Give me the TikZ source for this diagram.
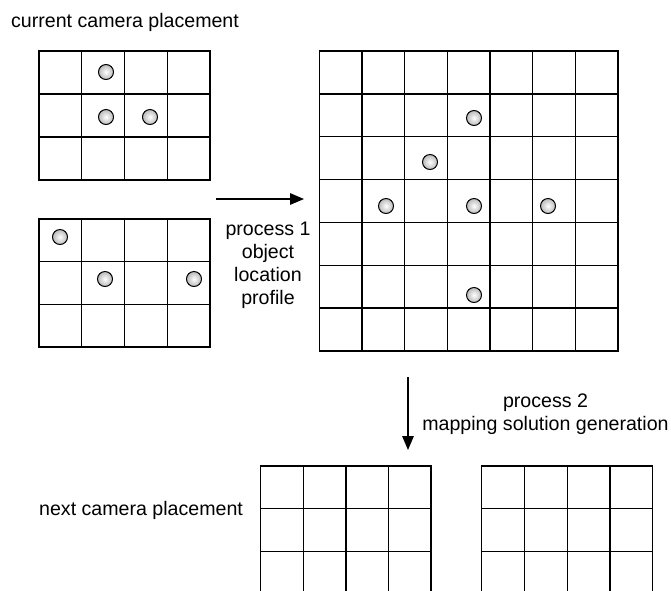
\documentclass[tikz,border=0pt]{standalone}
\usepackage{fontspec}
\setmainfont{Liberation Sans}
\usetikzlibrary{arrows.meta}
\begin{document}
\begin{tikzpicture}[x=1pt,y=-1pt,
  gridline/.style={line width=1.4pt, line cap=rect},
  obj/.style={circle, draw, line width=1pt, minimum size=15pt, inner sep=0pt, inner color=white, outer color=gray!55},
  lbl/.style={font=\fontsize{19.6}{23}\selectfont, align=center, inner sep=0pt},
  flow/.style={line width=1.4pt, -{Triangle[length=14pt,width=11.5pt]}}]
\useasboundingbox (0,0) rectangle (671,590);
% top-left grid
\draw[gridline] (39,51) rectangle (210,180);
\foreach \x in {81.75,124.5,167.25} \draw[gridline] (\x,51) -- (\x,180);
\foreach \y in {94,137} \draw[gridline] (39,\y) -- (210,\y);
% bottom-left grid
\draw[gridline] (39,219) rectangle (210,347);
\foreach \x in {81.75,124.5,167.25} \draw[gridline] (\x,219) -- (\x,347);
\foreach \y in {261.7,304.3} \draw[gridline] (39,\y) -- (210,\y);
% big grid
\draw[gridline] (319.3,51) rectangle (618,351);
\foreach \i in {1,...,6} {
  \draw[gridline] ({319.3+42.67*\i},51) -- ({319.3+42.67*\i},351);
  \draw[gridline] (319.3,{51+42.86*\i}) -- (618,{51+42.86*\i});
}
% bottom grids (cut at bottom)
\draw[gridline] (260.7,590) -- (260.7,466) -- (431,466) -- (431,590);
\foreach \x in {303.3,346,388.7} \draw[gridline] (\x,466) -- (\x,590);
\foreach \y in {508.7,551.3} \draw[gridline] (260.7,\y) -- (431,\y);
\draw[gridline] (481.7,590) -- (481.7,466) -- (652.3,466) -- (652.3,590);
\foreach \x in {524.3,567.3,610} \draw[gridline] (\x,466) -- (\x,590);
\foreach \y in {508.7,551.3} \draw[gridline] (481.7,\y) -- (652.3,\y);
% objects
\node[obj] (c1) at (106,72) {};
\node[obj] (c2) at (106,117) {};
\node[obj] (c3) at (150,117) {};
\node[obj] (c4) at (60,237) {};
\node[obj] (c5) at (105,279) {};
\node[obj] (c6) at (194,279) {};
\node[obj] (c7) at (474,118) {};
\node[obj] (c8) at (430,162) {};
\node[obj] (c9) at (386,206) {};
\node[obj] (c10) at (474,206) {};
\node[obj] (c11) at (548,206) {};
\node[obj] (c12) at (474,295) {};
% labels
\node[lbl, anchor=west] (cur) at (11,22) {current camera placement};
\node[lbl] (p1) at (268,265) {process 1\\object\\location\\profile};
\node[lbl] (p2) at (545.5,414.5) {process 2\\mapping solution generation};
\node[lbl, anchor=west] (next) at (39,510) {next camera placement};
% arrows
\coordinate (a1s) at (216,199);
\coordinate (a1e) at (304,199);
\coordinate (a2s) at (408,377);
\coordinate (a2e) at (408,450);
\draw[flow] (a1s) -- (a1e);
\draw[flow] (a2s) -- (a2e);
\end{tikzpicture}
\end{document}
